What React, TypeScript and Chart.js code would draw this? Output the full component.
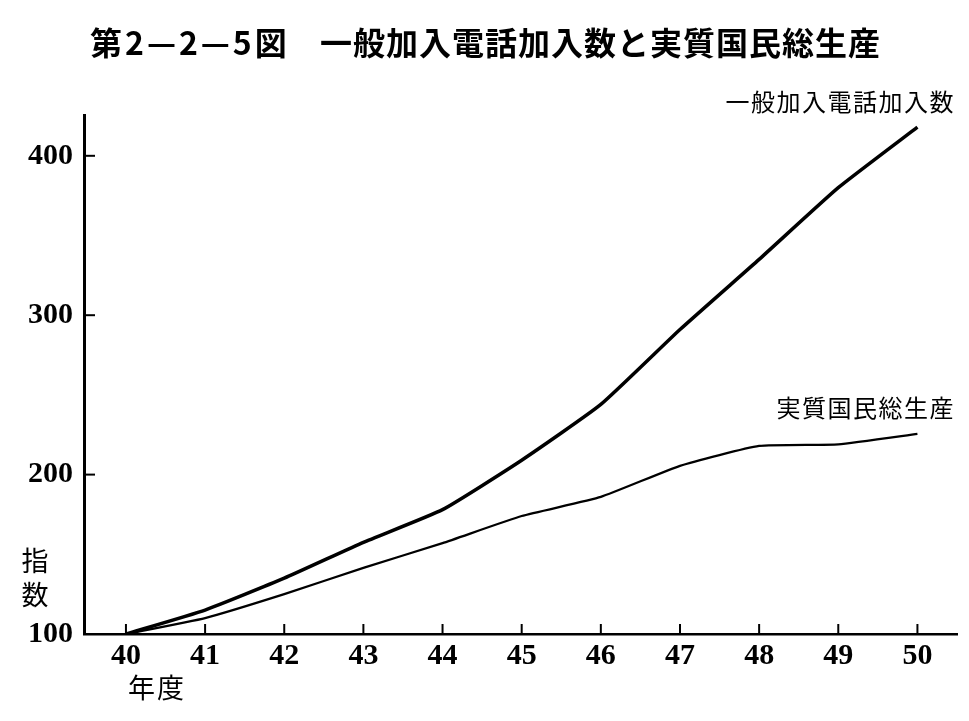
import React, { useEffect, useRef } from "react";
import { Chart, registerables } from "chart.js";

Chart.register(...registerables);

const years = [40, 41, 42, 43, 44, 45, 46, 47, 48, 49, 50];
const telephoneIndex = [100, 115, 135, 157.5, 178, 209, 244, 291, 335, 380, 418];
const gnpIndex = [100, 110, 125, 141.5, 157, 174, 186, 205.5, 218, 219, 225.5];
const yTicks = [100, 200, 300, 400];

const TITLE_A = "第2—2—5図";
const TITLE_B = "一般加入電話加入数と実質国民総生産";
const LABEL_PHONE = "一般加入電話加入数";
const LABEL_GNP = "実質国民総生産";
const Y_TITLE = ["指", "数"];
const X_TITLE = "年度";

const CJK = '"Noto Sans CJK JP", sans-serif';
const SERIF = '"Liberation Serif", "Times New Roman", serif';

const decorPlugin = {
  id: "decor",
  afterDatasetsDraw(chart: any) {
    const ctx = chart.ctx;
    const x = chart.scales.x;
    const y = chart.scales.y;
    const area = chart.chartArea;
    ctx.save();
    ctx.strokeStyle = "#000";
    ctx.lineWidth = 2;
    years.forEach((yr) => {
      const px = x.getPixelForValue(yr);
      ctx.beginPath();
      ctx.moveTo(px, area.bottom);
      ctx.lineTo(px, area.bottom - 10);
      ctx.stroke();
    });
    yTicks.slice(1).forEach((v) => {
      const py = y.getPixelForValue(v);
      ctx.beginPath();
      ctx.moveTo(area.left, py);
      ctx.lineTo(area.left + 11, py);
      ctx.stroke();
    });
    ctx.restore();
  },
  afterDraw(chart: any) {
    const ctx = chart.ctx;
    const y = chart.scales.y;
    const x = chart.scales.x;
    ctx.save();
    ctx.fillStyle = "#000";
    ctx.textBaseline = "middle";
    ctx.font = `bold 32px ${CJK}`;
    ctx.textAlign = "left";
    (ctx as any).letterSpacing = "3px";
    ctx.fillText(TITLE_A, 90, 43);
    (ctx as any).letterSpacing = "1px";
    ctx.fillText(TITLE_B, 320, 43);
    ctx.font = `24px ${CJK}`;
    (ctx as any).letterSpacing = "1.5px";
    ctx.textAlign = "right";
    ctx.fillText(LABEL_PHONE, 955, y.getPixelForValue(420) - 22);
    ctx.fillText(LABEL_GNP, 955, y.getPixelForValue(226) - 25);
    (ctx as any).letterSpacing = "0px";
    ctx.font = `27px ${CJK}`;
    ctx.textAlign = "center";
    ctx.fillText(Y_TITLE[0], 35, 561);
    ctx.fillText(Y_TITLE[1], 35, 595);
    (ctx as any).letterSpacing = "2px";
    ctx.fillText(X_TITLE, x.getPixelForValue(40) + 31, 688);
    ctx.restore();
  },
};

export default function App() {
  const ref = useRef<HTMLCanvasElement | null>(null);
  useEffect(() => {
    document.body.style.margin = "0";
    const canvas = ref.current!;
    const chart = new Chart(canvas, {
      type: "line",
      data: {
        datasets: [
          {
            label: LABEL_PHONE,
            data: years.map((yr, i) => ({ x: yr, y: telephoneIndex[i] })),
            borderColor: "#000",
            borderWidth: 3.5,
            pointRadius: 0,
            tension: 0.15,
            fill: false,
          },
          {
            label: LABEL_GNP,
            data: years.map((yr, i) => ({ x: yr, y: gnpIndex[i] })),
            borderColor: "#000",
            borderWidth: 2.2,
            pointRadius: 0,
            tension: 0.15,
            fill: false,
          },
        ],
      },
      options: {
        animation: false,
        responsive: false,
        events: [],
        layout: { padding: { top: 115, right: 12, left: 0, bottom: 0 } },
        plugins: { legend: { display: false }, tooltip: { enabled: false }, title: { display: false } },
        scales: {
          x: {
            type: "linear",
            min: 39.47,
            max: 50.5,
            afterBuildTicks: (s: any) => {
              s.ticks = years.map((v) => ({ value: v }));
            },
            afterFit: (s: any) => {
              s.height = 87;
            },
            grid: { display: false },
            border: { display: true, color: "#000", width: 2.5 },
            ticks: {
              color: "#000",
              padding: -4,
              maxRotation: 0,
              autoSkip: false,
              font: { family: SERIF, size: 30, weight: "bold" },
              callback: (v: any) => String(v),
            },
          },
          y: {
            type: "linear",
            min: 100,
            max: 425.6,
            afterBuildTicks: (s: any) => {
              s.ticks = yTicks.map((v) => ({ value: v }));
            },
            afterFit: (s: any) => {
              s.width = 84;
            },
            grid: { display: false },
            border: { display: true, color: "#000", width: 3 },
            ticks: {
              color: "#000",
              padding: 3,
              font: { family: SERIF, size: 30, weight: "bold" },
              callback: (v: any) => String(v),
            },
          },
        },
      },
      plugins: [decorPlugin],
    });
    return () => chart.destroy();
  }, []);
  return (
    <div style={{ position: "absolute", left: 0, top: 0, width: 969, height: 721, background: "#fff" }}>
      <canvas ref={ref} width={969} height={721} style={{ display: "block", width: 969, height: 721 }} />
    </div>
  );
}
